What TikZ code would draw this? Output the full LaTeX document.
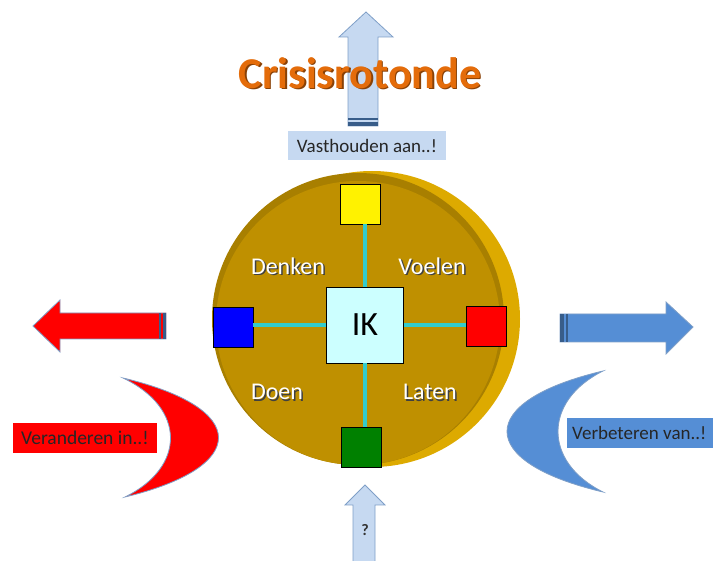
\documentclass[tikz,border=0pt]{standalone}
\usepackage{fontspec}
\setmainfont{Carlito}
\definecolor{goud}{HTML}{BF9000}
\definecolor{rand}{HTML}{DDAA00}
\definecolor{lichtblauw}{HTML}{C6D9F1}
\definecolor{pijlrand}{HTML}{7F9FC7}
\definecolor{donkerblauw}{HTML}{385D8A}
\definecolor{middenblauw}{HTML}{558ED5}
\definecolor{oranje}{HTML}{E46C0A}
\definecolor{cyaan}{HTML}{33CCCC}
\definecolor{ikvak}{HTML}{CCFFFF}
\begin{document}
\begin{tikzpicture}[x=1pt,y=-1pt,
    vak/.style={draw=black, line width=0.8pt, minimum width=40pt, minimum height=40pt, inner sep=0pt},
    spaak/.style={draw=cyaan, line width=3.2pt},
    woord/.style={text=white, font=\fontsize{24}{26}\selectfont},
    schaduw/.style={text=black!75, font=\fontsize{24}{26}\selectfont},
    bord/.style={inner sep=0pt, text=black!85, font=\fontsize{19}{21}\selectfont}]
    \useasboundingbox (0,0) rectangle (713,561);

    % pijl omhoog
    \draw[pijlrand, fill=lichtblauw, line width=0.8pt] (348,126) -- (348,37) -- (339,37) -- (366,12) -- (393,37) -- (378,37) -- (378,126) -- cycle;
    \fill[donkerblauw] (348,118) rectangle (378,120.5);
    \fill[donkerblauw] (348,122) rectangle (378,126);

    % titel
    \node[text=oranje!60!black, font=\bfseries\fontsize{44}{46}\selectfont] at (361.5,74.5) {Crisisrotonde};
    \node[text=oranje, font=\bfseries\fontsize{44}{46}\selectfont] (titel) at (360,73) {Crisisrotonde};

    \node[bord, fill=lichtblauw, minimum width=158pt, minimum height=29pt] (vast) at (367,145.5) {Vasthouden aan..!};

    % schijf
    \fill[rand] (372,319) circle (148);
    \fill[goud!88!black] (358,319) circle (146);
    \fill[goud] (358,323) circle (142);

    \node[vak, fill=yellow] (denk) at (360,204) {};
    \node[vak, fill=blue] (doe) at (233,327) {};
    \node[vak, fill=red] (voel) at (486,326) {};
    \node[vak, fill=green!50!black] (laat) at (361,447) {};
    \node[vak, fill=ikvak, minimum width=77pt, minimum height=76pt, font=\fontsize{34}{36}\selectfont] (ik) at (365,325) {IK};
    \draw[spaak] (ik.north) -- (ik.north |- denk.south);
    \draw[spaak] (ik.south) -- (ik.south |- laat.north);
    \draw[spaak] (ik.west) -- (doe.east |- ik.west);
    \draw[spaak] (ik.east) -- (voel.west |- ik.east);

    \node[schaduw] at (289.5,267.5) {Denken};
    \node[woord] (denken) at (288,266) {Denken};
    \node[schaduw] at (433.5,267.5) {Voelen};
    \node[woord] (voelen) at (432,266) {Voelen};
    \node[schaduw] at (278.5,393.5) {Doen};
    \node[woord] (doen) at (277,392) {Doen};
    \node[schaduw] at (431.5,393.5) {Laten};
    \node[woord] (laten) at (430,392) {Laten};

    % pijl links
    \draw[pijlrand, fill=red, line width=0.8pt] (166,313) -- (60,313) -- (60,300) -- (33,326) -- (60,352) -- (60,339) -- (166,339) -- cycle;
    \fill[donkerblauw] (159,313) rectangle (161,339);
    \fill[donkerblauw] (163,313) rectangle (166,339);

    % pijl rechts
    \draw[pijlrand, fill=middenblauw, line width=0.8pt] (560,314) -- (666,314) -- (666,302) -- (693,327) -- (666,354) -- (666,342) -- (560,342) -- cycle;
    \fill[donkerblauw] (560,314) rectangle (563.5,342);
    \fill[donkerblauw] (565.5,314) rectangle (568,342);

    % halve manen
    \draw[pijlrand, fill=red, line width=0.8pt] (123,378) .. controls (250,408) and (250,467) .. (125,497) .. controls (186,467) and (186,408) .. cycle;
    \draw[pijlrand, fill=middenblauw, line width=0.8pt] (603,371) .. controls (475,401) and (475,462) .. (603,492) .. controls (543,462) and (543,401) .. cycle;

    \node[bord, fill=red, minimum width=144pt, minimum height=30pt, font=\fontsize{19.5}{21}\selectfont] (veranderen) at (85,438) {Veranderen in..!};
    \fill[middenblauw] (567,418) rectangle (713,448);
    \node[bord, anchor=west, font=\fontsize{19}{21}\selectfont] (verbeteren) at (572,433) {Verbeteren van..!};

    % pijl onder
    \draw[pijlrand, fill=lichtblauw, line width=0.8pt] (353,565) -- (353,505) -- (345,505) -- (365,485) -- (385,505) -- (375,505) -- (375,565);
    \node[text=black!80, font=\bfseries\fontsize{16}{18}\selectfont] (vraag) at (365,530) {?};
\end{tikzpicture}
\end{document}
